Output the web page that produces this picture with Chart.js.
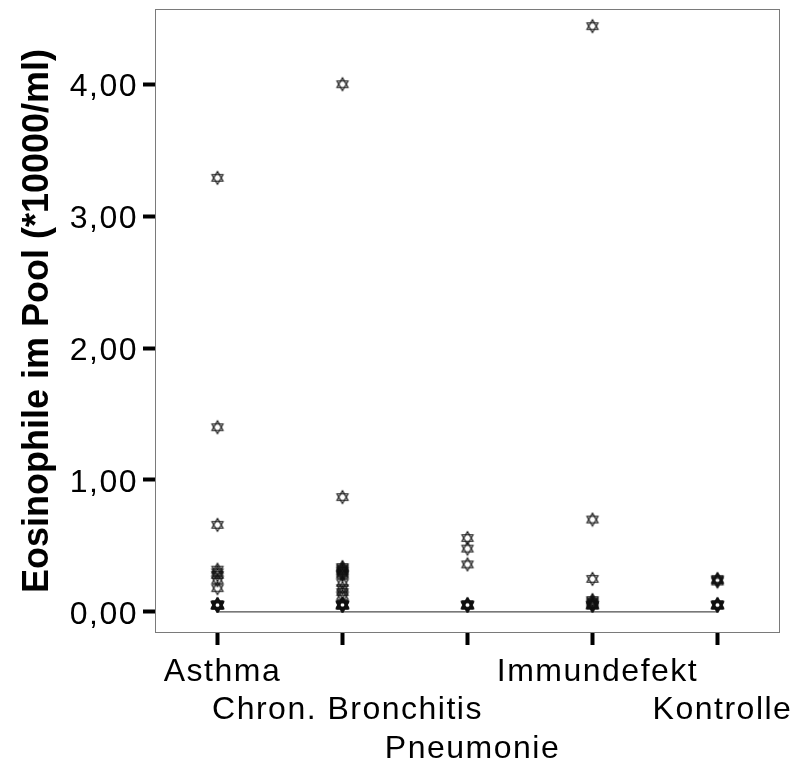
<!DOCTYPE html>
<html><head><meta charset="utf-8">
<script src="https://cdn.jsdelivr.net/npm/chart.js@4"></script>
<style>html,body{margin:0;padding:0;background:#fff;}canvas{display:block;}</style>
</head><body>
<canvas id="c" width="798" height="769"></canvas>
<script>
const CATEGORIES = ['Asthma', 'Chron. Bronchitis', 'Pneumonie', 'Immundefekt', 'Kontrolle'];
const ASTHMA = [3.29, 1.40, 0.66, 0.32, 0.30, 0.28, 0.24, 0.18, 0.06, 0.05, 0.05, 0.05, 0.05, 0.05, 0.05, 0.05];
const CHRON_BRONCHITIS = [4.00, 0.87, 0.34, 0.33, 0.32, 0.31, 0.30, 0.29, 0.28, 0.22, 0.18, 0.15, 0.12, 0.06, 0.06, 0.05, 0.05, 0.05, 0.05, 0.05, 0.05];
const PNEUMONIE = [0.56, 0.48, 0.36, 0.06, 0.05, 0.05, 0.05, 0.05, 0.05];
const IMMUNDEFEKT = [4.44, 0.70, 0.25, 0.09, 0.08, 0.07, 0.06, 0.05, 0.05, 0.05, 0.05];
const KONTROLLE = [0.25, 0.24, 0.24, 0.23, 0.06, 0.05, 0.05, 0.05, 0.05, 0.05];
const REFERENCE_LINE = [0, 0, 0, 0, 0];
const Y_TICKS = [0, 1, 2, 3, 4];
const Y_MIN = -0.16, Y_MAX = 4.57;
const Y_TITLE = 'Eosinophile im Pool (*10000/ml)';
const SERIES = [ASTHMA, CHRON_BRONCHITIS, PNEUMONIE, IMMUNDEFEKT, KONTROLLE];

const FONT = "'Liberation Sans', Arial, sans-serif";
const LABEL_ROWS = [0, 1, 2, 0, 1];

function makeStar() {
  const s = 16, c = document.createElement('canvas');
  c.width = s; c.height = s;
  const g = c.getContext('2d');
  const r = 6.4, cx = 8, cy = 8;
  g.strokeStyle = '#111';
  g.lineWidth = 1.1;
  [-90, 90].forEach(a0 => {
    g.beginPath();
    for (let k = 0; k < 3; k++) {
      const a = (a0 + 120 * k) * Math.PI / 180;
      const x = cx + r * Math.cos(a), y = cy + r * Math.sin(a);
      if (k) g.lineTo(x, y); else g.moveTo(x, y);
    }
    g.closePath();
    g.stroke();
  });
  return c;
}
const STAR = makeStar();

const framePlugin = {
  id: 'frame',
  beforeDraw(chart) { chart.ctx.letterSpacing = '0px'; },
  beforeDatasetsDraw(chart) {
    const a = chart.chartArea, ctx = chart.ctx;
    ctx.save();
    ctx.strokeStyle = '#7a7a7a';
    ctx.lineWidth = 1;
    ctx.strokeRect(Math.round(a.left) + 0.5, Math.round(a.top) + 0.5, Math.round(a.right - a.left) - 1, Math.round(a.bottom - a.top) - 1);
    ctx.restore();
  },
  afterDatasetsDraw(chart) { chart.ctx.letterSpacing = '1.5px'; },
  afterDraw(chart) { chart.ctx.letterSpacing = '0px'; }
};

const datasets = SERIES.map((vals, i) => ({
  type: 'line',
  data: vals.map(v => ({ x: CATEGORIES[i], y: v })),
  showLine: false,
  pointStyle: STAR,
  pointRadius: 6,
  order: 1
}));
datasets.push({
  type: 'line',
  data: REFERENCE_LINE,
  borderColor: '#222',
  borderWidth: 1,
  pointRadius: 0,
  fill: false,
  order: 2
});

new Chart(document.getElementById('c'), {
  type: 'line',
  data: { labels: CATEGORIES, datasets },
  plugins: [framePlugin],
  options: {
    responsive: false,
    animation: false,
    devicePixelRatio: 1,
    events: [],
    layout: { padding: { top: 9, right: 18, left: 0, bottom: 0 } },
    plugins: { legend: { display: false }, tooltip: { enabled: false } },
    scales: {
      x: {
        type: 'category',
        offset: true,
        grid: { drawOnChartArea: false, tickLength: 12, tickWidth: 4, tickColor: '#000' },
        border: { display: false },
        ticks: {
          z: 1,
          autoSkip: false, maxRotation: 0, minRotation: 0, padding: 8, color: '#000', labelOffset: 5,
          font: { family: FONT, size: 32, lineHeight: 1.2 },
          callback: (v, i) => [...Array(LABEL_ROWS[i]).fill(''), CATEGORIES[i]]
        },
        afterFit: s => { s.height = 136; s.paddingLeft = 0; s.paddingRight = 0; }
      },
      y: {
        min: Y_MIN, max: Y_MAX,
        afterBuildTicks: s => { s.ticks = Y_TICKS.map(v => ({ value: v })); },
        grid: { drawOnChartArea: false, tickLength: 12, tickWidth: 4, tickColor: '#000' },
        border: { display: false },
        ticks: {
          z: 1,
          padding: 5, color: '#000', labelOffset: 3,
          font: { family: FONT, size: 32 },
          callback: v => Number(v).toFixed(2).replace('.', ',')
        },
        title: {
          display: true, text: Y_TITLE, color: '#000',
          font: { family: FONT, size: 36, weight: 'bold' },
          padding: { top: 16, bottom: 0 }
        },
        afterFit: s => { s.width = 155; s.paddingTop = 0; s.paddingBottom = 0; }
      }
    }
  }
});
</script>
</body></html>
